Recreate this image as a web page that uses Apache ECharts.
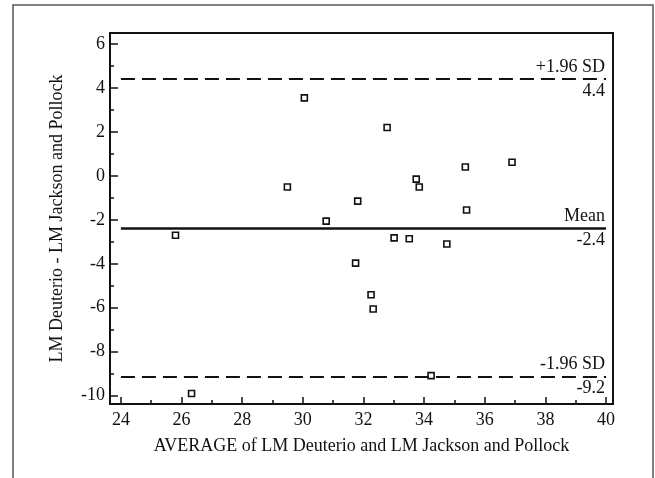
<!DOCTYPE html>
<html>
<head>
<meta charset="utf-8">
<script src="https://cdn.jsdelivr.net/npm/echarts@6/dist/echarts.min.js"></script>
<style>
    html, body { margin: 0; padding: 0; background: #fff; }
    #main { width: 655px; height: 478px; }
</style>
</head>
<body>
<div id="main"></div>
<script>
// Bland-Altman data
const avgValues = [25.80, 26.33, 29.49, 30.05, 30.77, 31.74, 31.81, 32.25, 32.32, 32.78,
    33.01, 33.51, 33.74, 33.84, 34.23, 34.75, 35.36, 35.40, 36.90];
const diffValues = [-2.70, -9.90, -0.51, 3.55, -2.06, -3.97, -1.15, -5.41, -6.06, 2.20,
    -2.82, -2.86, -0.15, -0.51, -9.09, -3.10, 0.40, -1.55, 0.62];

const xMajorTicks = [24, 26, 28, 30, 32, 34, 36, 38, 40];
const xMinorTicks = [25, 27, 29, 31, 33, 35, 37, 39];
const yMajorTicks = [-10, -8, -6, -4, -2, 0, 2, 4, 6];
const yMinorTicks = [-9, -7, -5, -3, -1, 1, 3, 5];

const limitNames = ['+1.96 SD', 'Mean', '-1.96 SD'];
const limitValues = [4.4, -2.37, -9.13];
const limitLabels = ['4.4', '-2.4', '-9.2'];
const lineStart = 24;
const lineEnd = 40;

const font = 'Liberation Serif, Times New Roman, serif';
const ink = '#111';

let myChart = echarts.init(document.getElementById('main'));

let markData = limitValues.map((v, i) => [
    {
        coord: [lineStart, v],
        lineStyle: {
            color: ink,
            width: limitNames[i] === 'Mean' ? 2.5 : 1.8,
            type: limitNames[i] === 'Mean' ? 'solid' : [14, 7]
        },
        label: {
            show: true,
            position: 'insideEnd',
            distance: 1,
            formatter: limitNames[i] + '\n' + limitLabels[i],
            fontFamily: font,
            fontSize: 18,
            lineHeight: 24,
            color: ink,
            align: 'right'
        }
    },
    { coord: [lineEnd, v] }
]);

let option = {
    animation: false,
    backgroundColor: '#fff',
    graphic: [
        {
            type: 'rect',
            silent: true,
            shape: { x: 13, y: 5, width: 640, height: 500 },
            style: { fill: 'none', stroke: '#555', lineWidth: 1.5 }
        }
    ],
    grid: {
        left: 110,
        top: 33,
        right: 42,
        bottom: 74,
        show: true,
        borderColor: ink,
        borderWidth: 2
    },
    xAxis: [
        {
            type: 'value',
            min: 23.64,
            max: 40.23,
            name: 'AVERAGE of LM Deuterio and LM Jackson and Pollock',
            nameLocation: 'middle',
            nameGap: 33,
            nameTextStyle: { fontFamily: font, fontSize: 18, color: ink },
            splitLine: { show: false },
            axisLine: { onZero: false, lineStyle: { color: ink, width: 2 } },
            axisTick: { inside: true, length: 7, customValues: xMajorTicks, lineStyle: { color: ink, width: 1.5 } },
            axisLabel: { customValues: xMajorTicks, fontFamily: font, fontSize: 18, color: ink, margin: 7 }
        },
        {
            type: 'value',
            min: 23.64,
            max: 40.23,
            position: 'bottom',
            splitLine: { show: false },
            axisLine: { show: false, onZero: false },
            axisTick: { inside: true, length: 4, customValues: xMinorTicks, lineStyle: { color: ink, width: 1.5 } },
            axisLabel: { show: false }
        }
    ],
    yAxis: [
        {
            type: 'value',
            min: -10.38,
            max: 6.5,
            name: 'LM Deuterio - LM Jackson and Pollock',
            nameLocation: 'middle',
            nameGap: 44,
            nameTextStyle: { fontFamily: font, fontSize: 18, color: ink },
            splitLine: { show: false },
            axisLine: { onZero: false, lineStyle: { color: ink, width: 2 } },
            axisTick: { inside: true, length: 8, customValues: yMajorTicks, lineStyle: { color: ink, width: 1.5 } },
            axisLabel: { customValues: yMajorTicks, fontFamily: font, fontSize: 18, color: ink, margin: 5 }
        },
        {
            type: 'value',
            min: -10.38,
            max: 6.5,
            position: 'left',
            splitLine: { show: false },
            axisLine: { show: false, onZero: false },
            axisTick: { inside: true, length: 4, customValues: yMinorTicks, lineStyle: { color: ink, width: 1.5 } },
            axisLabel: { show: false }
        }
    ],
    series: [
        {
            type: 'scatter',
            z: 3,
            symbol: 'rect',
            symbolSize: 6,
            itemStyle: { color: '#fff', borderColor: ink, borderWidth: 1.6, opacity: 1 },
            data: avgValues.map((x, i) => [x, diffValues[i]]),
            markLine: {
                silent: true,
                z: 1,
                symbol: 'none',
                data: markData
            }
        }
    ]
};
myChart.setOption(option);
</script>
</body>
</html>
